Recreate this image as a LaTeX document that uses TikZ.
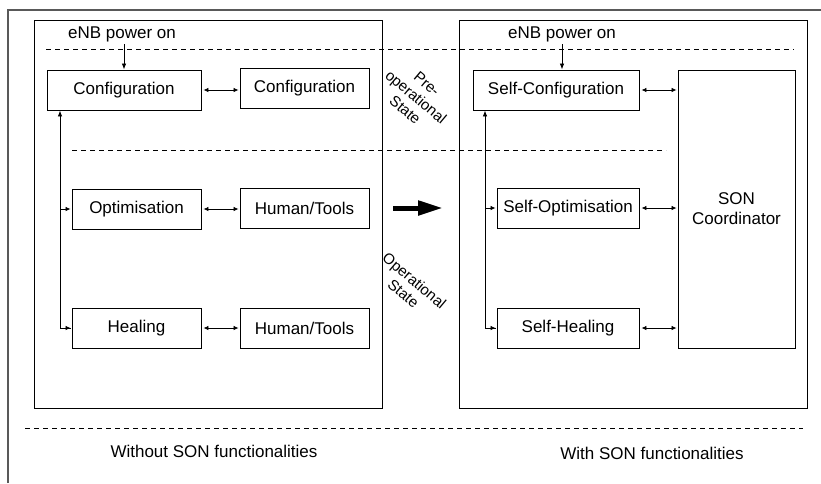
\documentclass[tikz,border=0pt]{standalone}
\usepackage{fontspec}
\setmainfont{Liberation Sans}
\usetikzlibrary{arrows.meta,calc}
\begin{document}
\begin{tikzpicture}[x=1pt,y=-1pt,
  txt/.style={font=\fontsize{17}{20}\selectfont},
  fbox/.style={draw, line width=0.9pt, inner sep=0pt, minimum height=40pt, txt},
  frame/.style={draw, line width=0.9pt},
  dsh/.style={line width=0.75pt, dash pattern=on 5pt off 4pt},
  conn/.style={line width=0.8pt, {Latex[length=5pt,width=4.5pt]}-{Latex[length=5pt,width=4.5pt]}},
  down/.style={line width=0.8pt, -{Latex[length=6pt,width=4.5pt]}},
  rot/.style={font=\fontsize{15}{17}\selectfont, align=center, rotate=-40}
]
\useasboundingbox (0,0) rectangle (821,483);
% outer gray frame
\draw[gray!70!black, line width=1.4pt] (8,483) -- (8,10) -- (821,10);
% inner frames
\node[frame, minimum width=348pt, minimum height=388pt, inner sep=0pt] (leftF) at (208,214) {};
\node[frame, minimum width=348pt, minimum height=388pt, inner sep=0pt] (rightF) at (633,214) {};
% dashed lines
\draw[dsh] (46,49) -- (794,49);
\draw[dsh] (72,150) -- (666,150);
\draw[dsh] (25,428) -- (803,428);
% power on labels
\node[txt] (pwrL) at (122,34) {eNB power on};
\node[txt] (pwrR) at (562,34) {eNB power on};
\coordinate (pwrLa) at (124,44);
\coordinate (pwrRa) at (562,44);
% left boxes
\node[fbox, minimum width=154pt] (cfg) at (124,90) {Configuration};
\node[fbox, minimum width=129pt] (cfgR) at (304.5,88) {Configuration};
\node[fbox, minimum width=129pt] (opt) at (136.5,209) {Optimisation};
\node[fbox, minimum width=129pt] (ht1) at (304.5,208) {Human/Tools};
\node[fbox, minimum width=129pt] (heal) at (136.5,328) {Healing};
\node[fbox, minimum width=129pt] (ht2) at (304.5,328) {Human/Tools};
% right boxes
\node[fbox, minimum width=166pt] (scfg) at (556,90) {Self-Configuration};
\node[fbox, minimum width=142pt] (sopt) at (568,208) {Self-Optimisation};
\node[fbox, minimum width=142pt] (sheal) at (568,328) {Self-Healing};
\node[fbox, minimum width=117pt, minimum height=278pt, align=center] (son) at (736.5,209) {SON\\Coordinator};
% power on arrows
\draw[down] (pwrLa) -- (pwrLa |- cfg.north);
\draw[down] (pwrRa) -- (pwrRa |- scfg.north);
% horizontal connectors left
\draw[conn] ([xshift=2pt]cfg.east) -- ([xshift=-1pt]cfg.east -| cfgR.west);
\draw[conn] ([xshift=2pt]opt.east) -- ([xshift=-1pt]opt.east -| ht1.west);
\draw[conn] ([xshift=2pt]heal.east) -- ([xshift=-1pt]heal.east -| ht2.west);
% horizontal connectors right
\draw[conn] ([xshift=2pt]scfg.east) -- ([xshift=-1pt]scfg.east -| son.west);
\draw[conn] ([xshift=2pt]sopt.east) -- ([xshift=-1pt]sopt.east -| son.west);
\draw[conn] ([xshift=2pt]sheal.east) -- ([xshift=-1pt]sheal.east -| son.west);
% feedback loops
\coordinate (vl) at (60,0);
\coordinate (vr) at (485,0);
\draw[line width=0.8pt, -{Latex[length=6pt,width=4.5pt]}] ([xshift=-1pt]heal.west) -- (heal.west -| vl) -- (vl |- cfg.south);
\draw[line width=0.8pt, -{Latex[length=5pt,width=4.5pt]}] (opt.west -| vl) -- ([xshift=-1pt]opt.west);
\draw[line width=0.8pt, -{Latex[length=5pt,width=4.5pt]}] ([xshift=6pt]heal.west -| vl) -- ([xshift=-1pt]heal.west);
\draw[line width=0.8pt, -{Latex[length=6pt,width=4.5pt]}] ([xshift=-1pt]sheal.west) -- (sheal.west -| vr) -- (vr |- scfg.south);
\draw[line width=0.8pt, -{Latex[length=5pt,width=4.5pt]}] (sopt.west -| vr) -- ([xshift=-1pt]sopt.west);
\draw[line width=0.8pt, -{Latex[length=5pt,width=4.5pt]}] ([xshift=6pt]sheal.west -| vr) -- ([xshift=-1pt]sheal.west);
% big arrow
\coordinate (bigA) at (393,208);
\coordinate (bigB) at (443,208);
\draw[line width=5pt, -{Triangle[length=25pt,width=14pt]}] (bigA) -- (bigB);
% rotated state labels
\node[rot] (preop) at (416,97) {Pre-\\operational\\State};
\node[rot] (op) at (409,287) {Operational\\State};
% bottom captions
\node[txt] (without) at (214,451) {Without SON functionalities};
\node[txt] (with) at (652,453) {With SON functionalities};
\end{tikzpicture}
\end{document}
